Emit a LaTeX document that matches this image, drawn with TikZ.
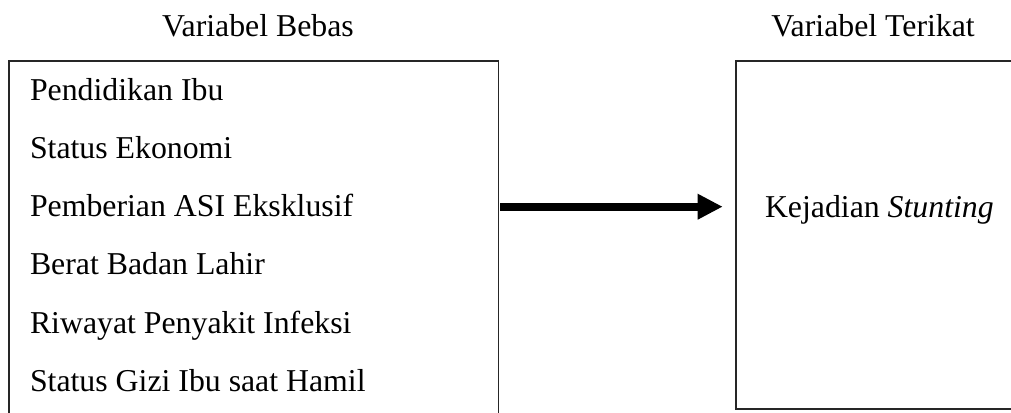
\documentclass[tikz,border=0pt]{standalone}
\usepackage{fontspec}
\setmainfont{Liberation Serif}
\usetikzlibrary{arrows.meta}
\begin{document}
\begin{tikzpicture}[x=0.5pt,y=-0.5pt,
  every node/.style={inner sep=0pt, outer sep=0pt, font=\fontsize{15.9pt}{19pt}\selectfont},
  frame/.style={draw=black!85, line width=0.8pt, rectangle},
  item/.style={anchor=base west},
  heading/.style={anchor=base},
  flow/.style={line width=4pt, -{Triangle[length=12.5pt,width=12pt]}}]
\useasboundingbox (0,0) rectangle (1011,412);
\clip (0,0) rectangle (1011,412);

% column headings
\node[heading] (hx) at (258,36) {Variabel Bebas};
\node[heading] (hy) at (873,36) {Variabel Terikat};

% independent variables box
\node[frame, anchor=north west, minimum width=244.75pt, minimum height=190pt] (vars) at (9,61) {};
\node[item] (v1) at (30,100) {Pendidikan Ibu};
\node[item] (v2) at (30,158) {Status Ekonomi};
\node[item] (v3) at (30,216.5) {Pemberian ASI Eksklusif};
\node[item] (v4) at (30,274.5) {Berat Badan Lahir};
\node[item] (v5) at (30,333) {Riwayat Penyakit Infeksi};
\node[item] (v6) at (30,391) {Status Gizi Ibu saat Hamil};

% dependent variable box
\node[frame, anchor=north west, minimum width=150pt, minimum height=174pt] (outc) at (736,61) {};
\node[item] (y1) at (765,217) {Kejadian \textit{Stunting}};

% influence arrow
\coordinate (a1) at (500,206.7);
\coordinate (a2) at (722.7,206.7);
\draw[flow] (a1) -- (a2);
\end{tikzpicture}
\end{document}
